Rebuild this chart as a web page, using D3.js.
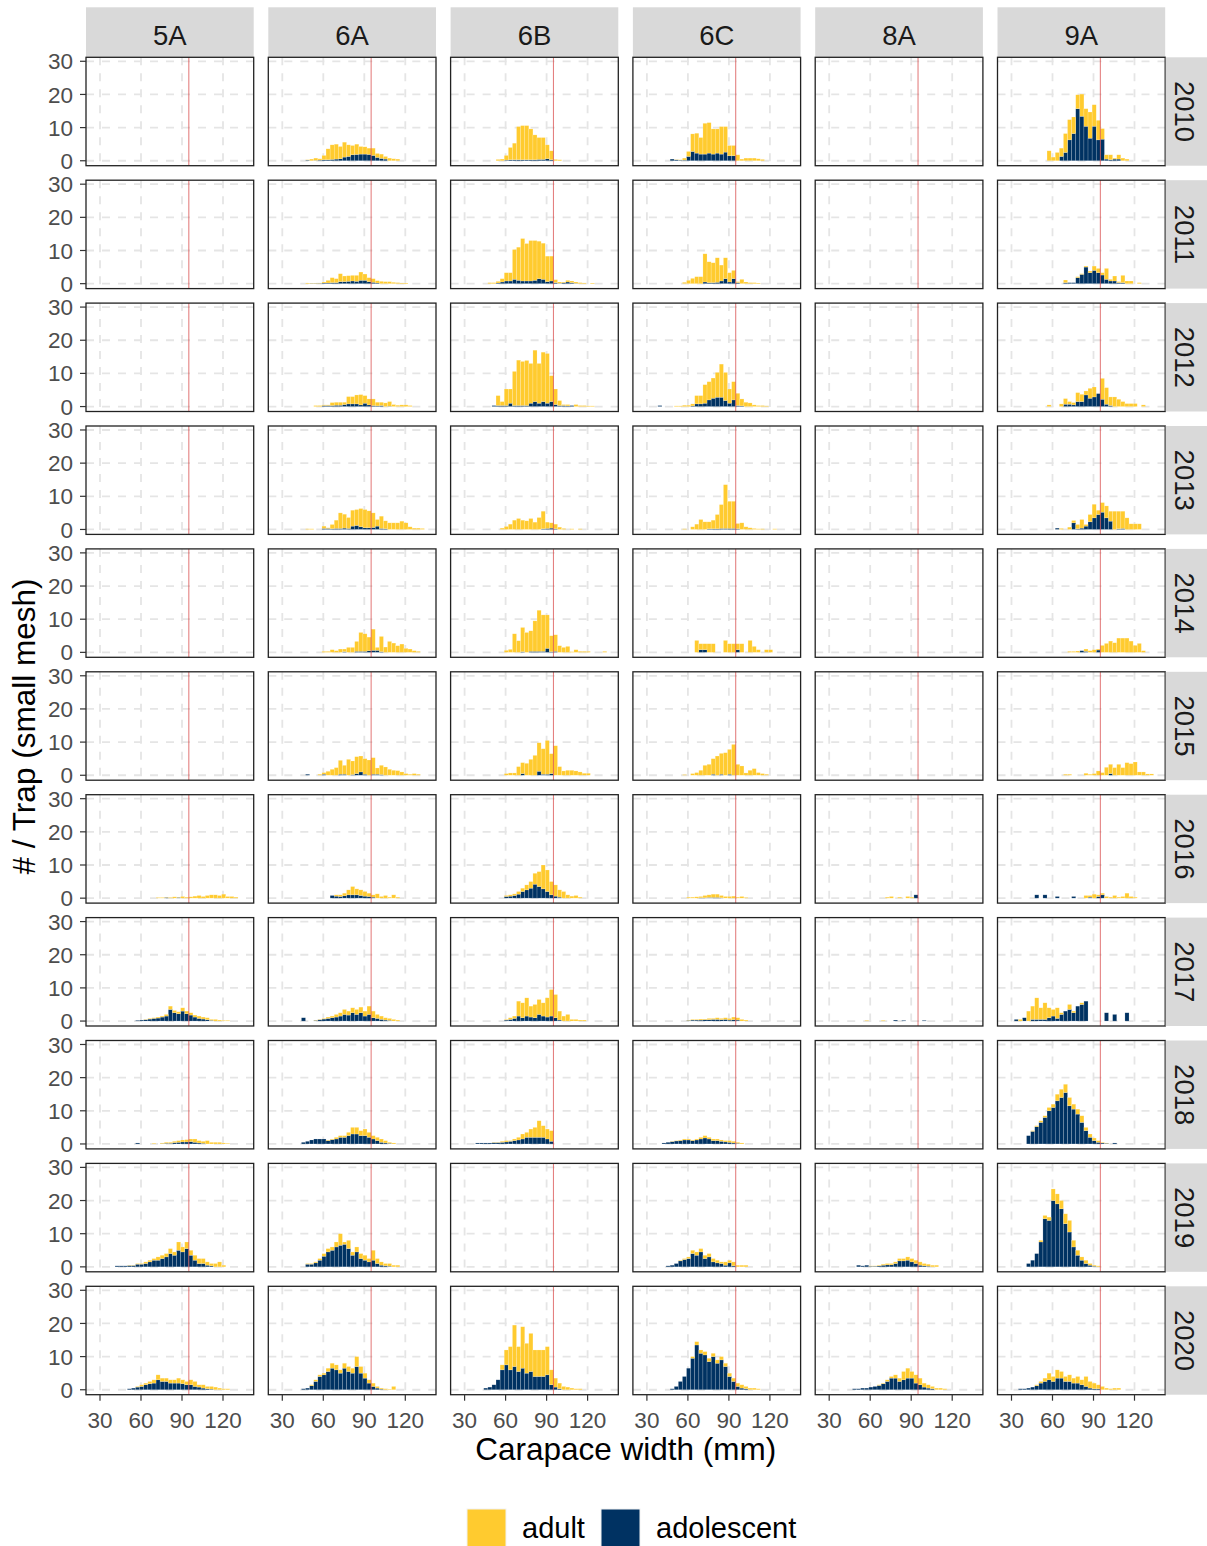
<!DOCTYPE html>
<html><head><meta charset="utf-8">
<script src="https://cdn.jsdelivr.net/npm/d3@7"></script>
<style>body{margin:0;background:#fff;} svg{display:block;font-family:"Liberation Sans",Arial,sans-serif;}</style>
</head><body><svg id="chart" width="1207" height="1546"></svg>
<script>
// ---------------- data ----------------
const areas = ["5A","6A","6B","6C","8A","9A"];
const years = [2010,2011,2012,2013,2014,2015,2016,2017,2018,2019,2020];
const binWidth = 3;            // mm per histogram bin
const refLine = 95;            // reference carapace width (mm)
const xTicks = [30,60,90,120];
const yTicks = [0,10,20,30];
const legendLabels = ["adult","adolescent"];
const xTitle = "Carapace width (mm)";
const yTitle = "# / Trap (small mesh)";

// left edge (mm) of first bin per year; per-bin values for adult / adolescent
const start5A = [null,null,null,null,null,null,71,56,56,41,50];
const adult5A = [[],[],[],[],[],[],
 [0.2,0.2,0.1,0.2,0.4,0.1,0.5,0.3,0.4,0.6,0.8,0.5,0.8,1.0,1.0,0.8,1.2,0.5,0.5,0.3],
 [0,0,0.1,0.2,0.2,0.3,0.3,0.5,1.0,0.7,0.6,1.0,0.8,0.7,0.6,0.7,0.6,0.6,0.3,0.5,0.3,0.2,0.2],
 [0,0,0,0,0.2,0,0.2,0.3,0.3,0.4,0.5,0.6,0.7,0.8,1.0,0.7,0.6,1.0,0.5,0.5,0.5,0.3,0.2],
 [0,0,0,0.1,0.1,0.2,0.2,0.5,0.5,0.5,1.0,1.0,1.0,1.5,1.0,2.5,1.5,2.0,1.5,1.5,1.5,1.5,1.0,0.7,1.0,1.5,0.5],
 [0,0,0.2,0.5,0.5,0.7,1.0,1.5,1.0,1.0,1.0,1.0,1.5,1.2,1.0,1.5,1.5,0.7,1.0,0.7,0.8,0.8,0.5,0.3,0.3]];
const adol5A = [[],[],[],[],[],[],
 [0,0,0.2,0,0,0.2,0,0,0,0,0,0,0,0,0,0,0,0,0,0],
 [0.2,0.3,0.4,0.6,0.8,0.9,1.2,1.5,3.5,2.5,2.2,3.0,2.2,1.8,1.2,0.8,0.6,0.4,0.2,0,0,0,0],
 [0.3,0,0,0,0,0,0.1,0.2,0.2,0.4,0.5,0.6,0.6,0.7,0.5,0.3,0.2,0,0,0,0,0,0],
 [0.3,0.3,0.3,0.4,0.4,0.8,0.8,1.0,1.5,2.0,2.0,2.5,3.0,4.0,3.5,5.0,4.5,5.5,3.5,2.0,1.0,1.0,0.5,0.3,0,0,0],
 [0.3,0.5,0.8,1.0,1.5,1.8,2.0,3.0,2.5,2.5,2.0,2.0,2.0,1.8,1.5,1.5,1.0,0.8,0.5,0.3,0.2,0,0,0,0]];

const start6A = [47,47,53,47,59,47,65,44,44,47,44];
const adult6A = [
 [0.1,0.5,0.7,0.4,1.3,3.3,4.4,4.5,3.7,4.5,3.5,2.8,3.1,2.3,2.2,1.9,2.2,1.2,1.3,0.8,0.8,0.6,0.5],
 [0.2,0.1,0.1,0.1,0.3,0.8,1.5,1.2,2.4,1.7,1.7,1.7,1.8,2.5,1.9,1.2,1.1,0.7,0.7,0.6,0.6,0.4,0.3,0.2,0.2],
 [0.3,0.3,0.2,0.2,0.9,0.9,0.9,0.7,2.2,2.2,2.7,3.1,2.3,1.8,2.0,1.1,1.0,1.1,1.4,0.6,0.4,0.5,0.5,0.3],
 [0.2,0.2,0,0,0.7,0.2,1.3,2.5,4.7,4.2,3.3,4.8,4.8,5.5,5.5,5.1,4.4,2.0,3.7,2.4,2.0,2.0,2.0,2.5,2.0,0.8,0.4,0.4,0.3],
 [0.3,0.3,0.8,0.5,1.0,0.8,1.5,1.5,3.0,5.7,5.3,4.1,6.4,0.9,4.6,1.6,3.3,2.8,2.0,2.5,1.2,1.0,0.5,0.3],
 [0,0,0,0.3,0.5,1.2,1.8,2.3,4.2,2.7,4.8,4.1,5.1,4.8,4.7,4.6,5.0,1.9,2.8,2.5,1.8,1.5,1.4,1.0,0.5,0.3,0.5,0.3],
 [0,0.4,0.5,0.8,1.5,2.5,1.8,1.7,1.4,1.0,0.7,1.3,0.5,0.8,0.3,1.0,0.3],
 [0,0,0,0.1,0.1,0.2,0.4,0.5,0.8,1.0,1.5,1.2,1.5,1.5,1.7,1.5,2.5,2.0,1.2,1.0,0.7,0.6,0.5,0.3],
 [0,0,0,0,0,0,0.2,0.2,0.5,0.5,0.5,1.0,2.0,2.0,1.5,2.0,1.5,1.0,1.0,1.0,0.7,0.3,0.3],
 [0.2,0.2,0.3,0.5,0.8,1.0,1.0,1.5,3.5,0.7,2.5,1.0,1.5,1.5,1.5,1.0,3.0,1.5,1.0,0.7,0.8,0.5,0.5],
 [0,0,0.3,0.5,0.5,0.5,1.0,1.5,1.5,1.0,1.5,1.5,1.5,3.0,2.0,1.5,1.0,1.0,0.5,0.3,0.3,0.2,1.0]];
const adol6A = [
 [0.2,0,0.1,0.2,0.3,0.3,0.4,0.5,0.6,1.1,1.3,1.8,1.9,2.0,2.0,1.9,1.6,1.0,0.7,0.5,0,0,0],
 [0,0.1,0.1,0.1,0.2,0.2,0.3,0.3,0.6,0.6,0.7,0.8,0.7,1.0,1.0,0.6,0.4,0.2,0,0,0,0,0,0,0],
 [0,0,0.3,0.3,0.3,0.4,0.4,0.6,0.8,0.8,0.8,0.5,1.0,0.5,0.3,0.2,0.3,0,0.1,0,0,0,0,0],
 [0,0,0,0,0.3,0.3,0.2,0.3,0.3,0.4,0.3,1.0,1.2,0.8,0.5,0.5,0.6,1.0,0.3,0.2,0,0,0,0,0,0,0,0,0],
 [0,0,0,0,0,0.2,0,0,0.3,0.3,0.3,0.5,0.6,0.6,0.2,0,0,0,0,0,0,0,0,0],
 [0.3,0,0,0,0.3,0,0,0,0.3,0.3,0,0.2,0.5,1.0,0.3,0,0.3,0.3,0.2,0,0,0,0,0,0,0,0,0],
 [0.8,0.6,0.5,0.7,1.0,1.0,1.0,0.8,0.6,0.5,0.3,0,0,0,0,0,0],
 [1.0,0,0,0.2,0.4,0.6,0.8,1.0,1.2,1.5,2.0,1.8,2.5,2.0,2.5,1.5,2.0,1.0,0.8,0.5,0.3,0.2,0,0],
 [0.5,0.8,1.2,1.5,1.5,1.5,1.0,1.3,1.5,2.0,2.0,2.5,3.0,3.0,2.5,2.5,2.0,1.5,1.0,0.5,0.3,0.2,0],
 [0.8,0.8,1.2,2.0,3.2,4.5,5.0,6.0,6.5,6.8,5.5,3.5,4.5,2.5,2.0,1.5,2.0,1.0,0.5,0.3,0.2,0,0],
 [0.3,0.5,1.2,2.5,4.0,4.5,5.5,6.5,6.0,5.0,6.5,5.5,5.0,7.0,5.0,3.5,2.0,1.0,0.5,0.2,0,0,0]];

const start6B = [53,47,50,56,59,59,59,59,38,null,44];
const adult6B = [
 [0.4,0.5,1.4,3.7,5.0,10.0,10.3,10.3,9.3,7.5,6.6,6.6,4.2,2.7,0.4,0.3],
 [0.3,0.3,0.5,1.0,2.5,2.5,9.0,10.0,12.8,11.3,12.2,12.0,11.3,10.9,7.7,7.5,0.9,0.4,0.2,0.5,0.5,0.4,0.3,0.2,0,0.2],
 [0,3.0,1.2,5.0,4.3,10.3,13.7,13.3,13.6,12.0,15.5,12.0,14.9,15.0,7.8,4.7,1.5,0.3,0.4,0,0.6,0.3,0.3,0.2,0.2],
 [0.4,0.9,1.6,2.8,3.3,2.8,2.6,3.3,2.2,3.6,5.3,1.9,1.6,1.4,0.7,0.3,0,0.2,0,0.2],
 [0.6,0.9,5.6,3.5,7.3,6.0,6.2,9.2,12.4,11.0,10.1,4.8,5.0,2.0,1.5,1.8,0.2,0.8,0.3,0.3,0.3,0,0,0,0.3],
 [0.5,0.7,0.7,2.6,3.3,3.6,4.8,6.0,8.6,7.7,10.2,6.0,8.9,2.6,1.3,1.5,1.5,1.3,1.0,0.6,0.6],
 [0.3,0.4,0.5,0.8,1.0,1.5,2.0,3.3,4.5,7.2,6.5,4.0,3.4,2.2,2.0,1.0,0.6,0.8,0.3],
 [0.2,0.5,0.7,4.5,4.5,5.5,3.3,4.0,4.5,4.0,5.8,8.0,7.0,2.7,1.5,2.0,0.5,0.5,0.3,0.3],
 [0,0,0,0,0.1,0.1,0.3,0.4,0.2,0.5,0.8,1.5,1.5,2.5,3.0,5.0,3.5,3.0,3.2],
 [],
 [0,0,0,0,1.5,4.5,7.0,12.5,7.5,12.5,9.0,11.5,8.0,8.0,8.0,8.5,4.5,2.7,1.7,1.0,0.8,0.5,0.3,0.3]];
const adol6B = [
 [0,0,0.2,0.3,0.3,0.3,0.3,0.3,0.3,0.3,0.4,0.4,0.6,0.3,0,0],
 [0,0,0.2,0.5,0.8,0.8,1.3,1.0,0.8,0.8,0.8,1.0,1.5,1.3,0.6,0.8,0.3,0.1,0.3,0.5,0.3,0.1,0,0,0,0],
 [0.3,0.3,0.3,0.3,1.0,0.3,0.3,0.3,0.3,1.0,1.5,1.0,1.5,1.0,1.5,0.6,0.3,0.3,0.2,0.3,0,0,0,0,0],
 [0,0,0,0,0,0,0,0,0,0,0.2,0.3,0.4,0.2,0,0,0,0,0,0],
 [0,0,0,0,0.2,0,0.3,0.3,0.3,0.3,1.2,0.2,0.3,0,0,0,0,0,0,0,0,0,0,0,0],
 [0,0,0,0,0.5,0,0,0,1.2,0.3,0.3,0.5,0,0,0,0,0,0,0,0,0],
 [0.5,0.6,0.8,1.2,2.0,2.5,3.0,4.2,3.5,2.8,2.0,1.0,0.6,0.3,0,0,0,0,0],
 [0.3,0.5,0.8,1.5,1.0,1.5,1.2,1.0,2.0,1.5,1.2,1.5,1.0,0.3,0,0,0,0,0,0],
 [0.3,0.3,0.3,0.3,0.4,0.4,0.5,0.6,0.8,1.0,1.2,1.5,2.0,2.0,2.0,2.0,2.0,1.5,0.8],
 [],
 [0.5,0.8,1.5,3.0,6.0,7.5,6.0,7.0,5.5,6.5,5.0,5.5,4.0,4.0,4.0,4.5,1.5,0.8,0.3,0,0,0,0,0]];

const start6C = [47,56,38,56,65,56,59,59,41,44,47];
const adult6C = [
 [0,0.1,0.1,0.6,1.5,5.3,6.0,5.0,9.3,9.2,7.6,7.3,8.3,7.7,3.1,3.1,1.8,0.5,0.8,0.8,0.8,0.6,0.4],
 [0.4,1.0,1.6,2.1,2.1,8.5,6.3,6.0,7.4,4.8,6.3,2.8,2.5,0.3,1.3,0.5,0.3,0.3,0.2],
 [0,0,0,0,0.2,0.2,0.4,0.4,0.6,2.5,2.5,5.6,5.5,6.1,7.5,10.0,8.5,4.3,5.5,3.7,2.1,1.3,1.1,0.5,0.3,0.3,0.2],
 [0.2,0,0.8,1.6,3.0,2.3,2.1,2.6,4.3,7.2,13.2,8.2,8.2,1.6,2.0,0.8,0.5,0.3,0.2,0.2,0,0,0.2],
 [3.6,1.8,1.8,2.6,2.6,0,0,3.6,2.6,2.6,1.8,2.6,0,3.6,1.8,0.8,0,0.8,0.8],
 [0.2,0,0.5,0.8,1.5,3.0,3.3,4.7,5.8,6.3,6.8,7.5,9.3,3.3,2.8,0.7,1.5,2.0,0.8,0.5,0.3],
 [0.3,0.3,0.4,0.4,0.7,0.8,1.0,1.0,0.7,0.5,0.5,0.6,0.3,0.5,0.2],
 [0.1,0.2,0.2,0.3,0.2,0.4,0.3,0.5,0.4,0.5,0.5,0.8,0.7,0.5,0.3],
 [0,0,0.1,0.1,0.2,0.3,0.3,0.2,0.3,0.5,0.7,0.5,0.5,0.5,0.4,0.4,0.5,0.5,0.3,0.3],
 [0,0,0,0.2,0.3,0.5,1.0,1.0,1.0,1.0,1.0,1.0,0.8,0.5,1.0,0.8,1.2,0.5,0.5,0.5],
 [0,0,0,0,0,0.5,1.0,1.0,1.0,1.0,1.0,1.0,1.0,1.0,1.0,1.0,1.0,1.0,0.7,0.5,0.5,0.3]];
const adol6C = [
 [0.5,0.3,0.2,0.2,1.3,2.8,2.3,2.0,2.0,2.3,2.0,2.3,2.0,2.6,1.5,1.5,0,0,0,0,0,0,0],
 [0,0,0,0,0,0.5,0.3,0.3,0.4,0.8,1.5,0.5,1.5,0.3,0,0,0,0,0],
 [0.3,0,0,0,0,0,0,0,0.2,0.8,0.8,1.0,2.0,2.5,2.8,2.8,1.8,1.0,2.0,0.3,0.2,0,0,0,0,0,0],
 [0,0,0,0,0,0,0.2,0.2,0.2,0.3,0.3,0.3,0.3,0.2,0,0,0,0,0,0,0,0,0],
 [0,0.8,0.8,0,0,0,0,0,0,0,0.8,0,0,0,0,0,0,0,0],
 [0,0,0,0,0,0,0,0.3,0,0.3,0,0.3,0,0,0,0,0,0,0,0,0],
 [0,0,0,0.1,0.1,0.2,0.2,0.2,0.1,0,0,0,0,0,0],
 [0.2,0.3,0.3,0.3,0.4,0.4,0.5,0.5,0.4,0.5,0.3,0.4,0.3,0,0],
 [0.3,0.5,0.7,0.9,1.0,1.2,1.2,1.0,1.2,1.5,1.8,1.5,1.0,1.0,0.8,0.6,0.5,0.3,0.2,0],
 [0.3,0.5,1.0,1.8,2.2,2.5,4.0,3.5,4.5,2.5,3.0,1.5,1.2,1.0,0.5,1.2,0.3,0,0,0],
 [0.3,1.0,2.5,4.0,6.5,9.5,13.5,11.0,10.5,8.5,10.0,8.0,9.0,7.0,4.0,2.5,1.0,0.5,0.3,0,0,0]];

const start8A = [null,null,null,null,null,null,71,56,null,50,47];
const adult8A = [[],[],[],[],[],[],
 [0.3,0.5,0,0.3,0,0.5,0.3,0],
 [0.2,0,0,0,0.2,0,0,0,0,0,0,0,0,0,0],
 [],
 [0,0,0,0.1,0.1,0.2,0.3,0.4,0.4,0.5,0.7,0.7,1.0,1.0,1.0,1.0,0.7,0.6,0.5,0.5],
 [0,0,0,0,0,0,0.2,0.2,0.5,0.5,1.0,1.0,2.5,3.0,2.0,2.5,2.0,1.2,1.0,0.7,0.5,0.5,0.3]];
const adol8A = [[],[],[],[],[],[],
 [0,0,0,0,0,0,0,1.0],
 [0,0,0,0,0,0,0,0.3,0,0.2,0,0,0,0,0.2],
 [],
 [0.5,0.3,0.5,0.2,0.2,0.3,0.5,0.6,0.6,1.0,1.8,1.8,2.0,1.5,1.0,0.5,0.3,0.2,0,0],
 [0.3,0.3,0.5,0.5,0.8,1.0,1.3,1.8,2.5,3.5,3.5,2.5,3.0,3.5,3.5,2.0,1.5,0.8,0.5,0.3,0,0,0]];

const start9A = [56,68,56,62,71,68,47,32,41,41,35];
const adult9A = [
 [3.0,1.1,2.5,2.5,5.7,6.1,5.0,4.2,6.7,5.3,7.9,6.5,5.9,3.2,1.3,1.5,0.3,1.3,0.8,0.5],
 [0.8,0,0,0.3,0.2,0.3,0.5,1.3,1.3,0.7,3.3,0.5,1.5,0.3,2.2,0.8,0.8,0,0.3],
 [0.5,0,0,0.8,1.7,0.8,0.7,2.7,2.2,1.2,3.0,3.0,0,6.3,5.0,2.6,2.9,2.2,1.5,0.9,0.9,0.9,0,0.5],
 [0,0.3,0,0.7,0.7,1.3,2.6,0.5,2.2,4.1,1.3,2.9,3.6,3.0,5.5,5.3,5.2,3.5,1.7,1.7,1.7],
 [0.3,0.3,0.4,0,0.7,0.5,0.8,0.3,2.1,2.7,3.4,2.9,4.3,4.3,4.3,3.4,2.1,2.7,0.5],
 [0.3,0.3,0,0,0,0.6,0.3,0.5,1.3,0.8,2.4,2.8,2.3,3.3,2.3,3.8,3.5,4.0,1.0,1.0,0.4,0.4],
 [0,0,0,0,0,0,0,0,0,0,0,0,0.8,0.5,1.2,0.5,0.5,0.5,0.3,0.8,0.3,0.5,1.5,0.5,0.3],
 [0,0.5,0,3.0,4.0,6.5,3.5,5.0,3.0,2.0,3.2,0.5,0,1.5,0.5,0,0.5,0,0,0,0,0,0,0,0,0,0,0],
 [0,0.2,0.3,0.5,0.5,1.0,1.0,2.0,2.5,2.5,2.5,1.5,1.5,2.0,1.0,1.0,0.8,0.5,0.2,0.1,0,0],
 [0,0,0,0.5,1.0,1.0,3.5,3.0,2.5,3.0,3.5,2.0,1.5,1.0,1.0,0.5,0.3,0.3],
 [0,0,0,0,0.3,0.5,1.0,2.0,1.5,2.5,2.0,1.5,2.0,1.5,2.0,1.5,3.0,2.0,1.7,1.2,1.0,0.5,0.3,0.5,0.5]];
const adol9A = [
 [0,0,0,1.3,2.5,6.3,8.2,15.7,13.4,10.4,6.8,10.4,6.3,6.5,0.5,0.3,0.5,0.5,0,0],
 [0.3,0.3,0.3,1.8,2.8,5.0,3.3,4.0,3.3,2.6,1.3,0.8,0.8,0.3,0.3,0,0,0,0],
 [0,0,0,0,0.7,0.7,0.5,1.5,1.5,3.5,2.5,2.9,3.9,2.2,0.7,0.3,0,0,0,0,0,0,0,0],
 [0.4,0,0,0,2.0,0.2,0.4,1.0,2.3,3.5,4.5,5.2,3.5,2.5,0,0.2,0.3,0,0,0,0],
 [0,0,0,0.5,0.3,0,0,0.7,0,0,0,0,0,0,0,0,0,0,0],
 [0,0,0,0,0,0,0,0,0,0,0,0.5,0,0,0,0,0,0,0,0,0,0],
 [1.0,0,1.0,0,0,0.5,0,0,0,0.5,0,0,0,0.3,0,0.5,1.0,0,0,0,0,0,0,0,0],
 [0.5,0,1.0,0,0.5,0.5,0.5,0.5,1.0,1.5,0.8,2.0,3.0,3.5,2.5,4.5,5.0,6.0,0,0,0,0,2.5,0,2.0,0,0,2.5],
 [2.5,3.8,5.2,6.5,8.0,10.0,11.0,13.0,14.0,15.5,11.5,10.5,9.0,6.5,4.0,2.0,1.0,0.5,0.3,0.2,0,0.3],
 [1.0,2.0,4.0,7.5,14.5,14.0,20.0,19.0,17.5,13.0,10.5,6.0,3.5,2.0,1.0,0.5,0.2,0],
 [0.3,0.3,0.5,0.8,1.2,2.0,2.5,3.0,2.5,3.5,3.5,2.5,2.5,2.0,2.0,1.5,1.0,0.5,0.3,0.3,0,0,0,0,0]];

const seriesByArea = {
  "5A": {start: start5A, adult: adult5A, adol: adol5A},
  "6A": {start: start6A, adult: adult6A, adol: adol6A},
  "6B": {start: start6B, adult: adult6B, adol: adol6B},
  "6C": {start: start6C, adult: adult6C, adol: adol6C},
  "8A": {start: start8A, adult: adult8A, adol: adol8A},
  "9A": {start: start9A, adult: adult9A, adol: adol9A}
};

// ---------------- layout ----------------
const colors = {adult: "#FFCB2F", adol: "#003262"};
const panelLeft = 86, panelTop = 57.3, pw = 167.7, ph = 108.4;
const colStep = 182.3, rowStep = 122.9;
const stripTop = 7.3;
const rightStripX = 1165.7, rightStripW = 41.3;

const svg = d3.select("#chart");
svg.append("rect").attr("width",1207).attr("height",1546).attr("fill","#fff");

const x = d3.scaleLinear().domain([19.76, 142.46]).range([0, pw]);
const y = d3.scaleLinear().domain([-1.49, 31.2]).range([ph, 0]);

areas.forEach((area, i) => {
  const s = seriesByArea[area];
  const px = panelLeft + i * colStep;
  svg.append("rect").attr("x", px).attr("y", stripTop).attr("width", pw)
    .attr("height", panelTop - stripTop).attr("fill", "#d9d9d9");
  svg.append("text").attr("x", px + pw/2).attr("y", 44.5).attr("text-anchor","middle")
    .attr("font-size", 27.5).attr("fill", "#1a1a1a").text(area);

  years.forEach((yr, j) => {
    const py = panelTop + j * rowStep;
    const g = svg.append("g").attr("transform", `translate(${px},${py})`);
    g.append("rect").attr("width", pw).attr("height", ph).attr("fill", "#fff");
    // dashed grid
    g.selectAll(null).data(xTicks).join("line")
      .attr("x1", d => x(d)).attr("x2", d => x(d)).attr("y1", 0).attr("y2", ph)
      .attr("stroke", "#e5e5e5").attr("stroke-width", 1.8).attr("stroke-dasharray", "8,8");
    g.selectAll(null).data(yTicks).join("line")
      .attr("y1", d => y(d)).attr("y2", d => y(d)).attr("x1", 0).attr("x2", pw)
      .attr("stroke", "#e5e5e5").attr("stroke-width", 1.8).attr("stroke-dasharray", "8,8");

    const st = s.start[j];
    if (st != null) {
      const ad = s.adult[j], ao = s.adol[j];
      const bins = ad.map((a, b) => ({lo: st + b * binWidth, adult: a, adol: ao[b] || 0}));
      g.selectAll(null).data(bins.filter(d => d.adol > 0)).join("rect")
        .attr("x", d => x(d.lo)).attr("width", d => x(d.lo + binWidth) - x(d.lo))
        .attr("y", d => y(d.adol)).attr("height", d => y(0) - y(d.adol))
        .attr("fill", colors.adol).attr("stroke", "#fff").attr("stroke-opacity", 0.35).attr("stroke-width", 0.5);
      g.selectAll(null).data(bins.filter(d => d.adult > 0)).join("rect")
        .attr("x", d => x(d.lo)).attr("width", d => x(d.lo + binWidth) - x(d.lo))
        .attr("y", d => y(d.adol + d.adult)).attr("height", d => y(d.adol) - y(d.adol + d.adult))
        .attr("fill", colors.adult).attr("stroke", "#fff").attr("stroke-opacity", 0.35).attr("stroke-width", 0.5);
    }
    g.append("line").attr("x1", x(refLine)).attr("x2", x(refLine)).attr("y1", 0).attr("y2", ph)
      .attr("stroke", "#d43a3a").attr("stroke-width", 0.7);
    g.append("rect").attr("width", pw).attr("height", ph).attr("fill", "none")
      .attr("stroke", "#222").attr("stroke-width", 1.3);

    // y axis on first column
    if (i === 0) {
      const ya = svg.append("g").attr("transform", `translate(${px},${py})`);
      ya.selectAll(null).data(yTicks).join("line")
        .attr("x1", -6).attr("x2", 0).attr("y1", d => y(d)).attr("y2", d => y(d))
        .attr("stroke", "#333").attr("stroke-width", 1.2);
      ya.selectAll(null).data(yTicks).join("text")
        .attr("x", -13).attr("y", d => y(d)).attr("dy", "0.36em").attr("text-anchor", "end")
        .attr("font-size", 22.5).attr("fill", "#4d4d4d").text(d => d);
    }
    // right strip on last column
    if (i === areas.length - 1) {
      svg.append("rect").attr("x", rightStripX).attr("y", py).attr("width", rightStripW)
        .attr("height", ph).attr("fill", "#d9d9d9");
      svg.append("text").attr("transform", `translate(${rightStripX + rightStripW/2 - 1},${py + ph/2}) rotate(90)`)
        .attr("text-anchor", "middle").attr("dy", "0.36em").attr("font-size", 27.5)
        .attr("fill", "#1a1a1a").text(yr);
    }
  });

  // x axis under last row
  const by = panelTop + (years.length - 1) * rowStep + ph;
  const xa = svg.append("g").attr("transform", `translate(${px},${by})`);
  xa.selectAll(null).data(xTicks).join("line")
    .attr("x1", d => x(d)).attr("x2", d => x(d)).attr("y1", 0).attr("y2", 6)
    .attr("stroke", "#333").attr("stroke-width", 1.2);
  xa.selectAll(null).data(xTicks).join("text")
    .attr("x", d => x(d)).attr("y", 33.5).attr("text-anchor", "middle")
    .attr("font-size", 22.5).attr("fill", "#4d4d4d").text(d => d);
});

// axis titles
svg.append("text").attr("x", 625.7).attr("y", 1460).attr("text-anchor", "middle")
  .attr("font-size", 31.5).attr("fill", "#000").text(xTitle);
svg.append("text").attr("transform", "translate(24,726.5) rotate(-90)")
  .attr("text-anchor", "middle").attr("dy", "0.36em").attr("font-size", 31.5)
  .attr("fill", "#000").text(yTitle);

// legend
const legendItems = [
  {label: legendLabels[0], color: colors.adult, kx: 467, tx: 522},
  {label: legendLabels[1], color: colors.adol, kx: 601, tx: 656}
];
legendItems.forEach(d => {
  svg.append("rect").attr("x", d.kx).attr("y", 1509).attr("width", 39).attr("height", 39)
    .attr("fill", d.color).attr("stroke", "#f2f2f2").attr("stroke-width", 1);
  svg.append("text").attr("x", d.tx).attr("y", 1537.5).attr("font-size", 29)
    .attr("fill", "#000").text(d.label);
});
</script></body></html>
